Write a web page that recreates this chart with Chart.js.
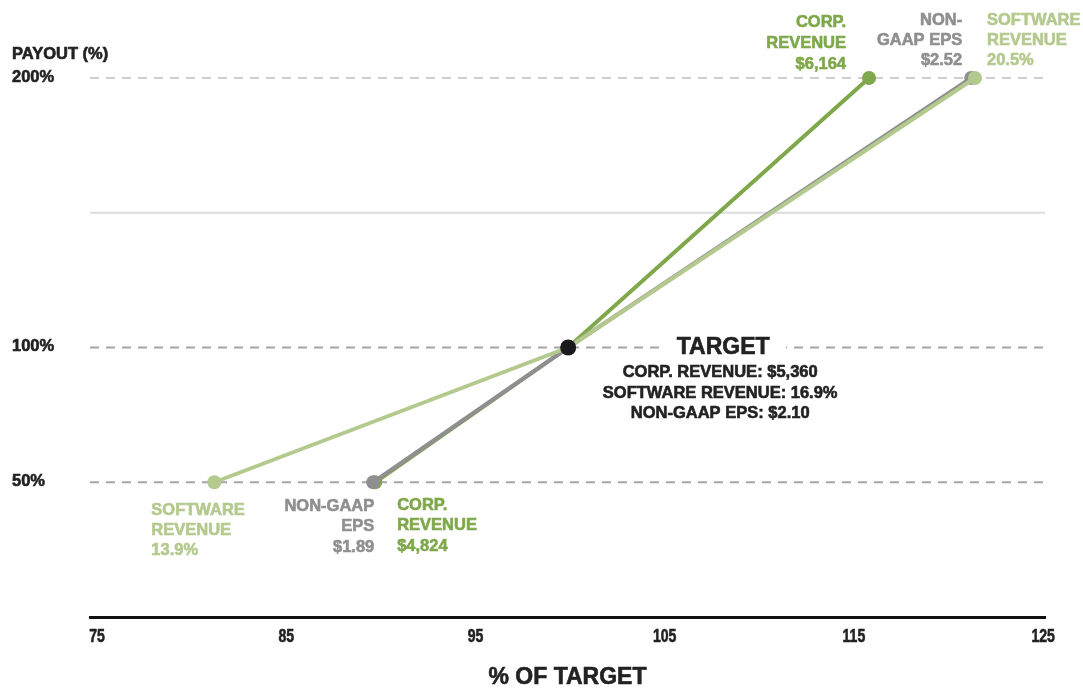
<!DOCTYPE html>
<html lang="en">
<head>
  <meta charset="UTF-8" />
  <title>Payout vs % of Target</title>
  <script src="https://cdn.jsdelivr.net/npm/chart.js"></script>
  <style>
    body { margin: 0; background: #fff; }
    .wrap { width: 1083px; height: 688px; position: relative; }
  </style>
</head>
<body>
  <div class="wrap"><canvas id="payoutChart"></canvas></div>

  <script>
    // values
    const xTicks = [75, 85, 95, 105, 115, 125];
    const yLabels = [50, 100, 200];
    const payoutY = [50, 100, 200];
    const corpX = [89.7, 99.9, 115.8];
    const softwareX = [81.2, 99.9, 121.4];
    const epsX = [89.6, 99.9, 121.2];
    const targetPoint = [99.9, 100];

    const corpLabelsLow = ['CORP.', 'REVENUE', '$4,824'];
    const corpLabelsHigh = ['CORP.', 'REVENUE', '$6,164'];
    const softLabelsLow = ['SOFTWARE', 'REVENUE', '13.9%'];
    const softLabelsHigh = ['SOFTWARE', 'REVENUE', '20.5%'];
    const epsLabelsLow = ['NON-GAAP', 'EPS', '$1.89'];
    const epsLabelsHigh = ['NON-', 'GAAP EPS', '$2.52'];
    const targetLines = ['CORP. REVENUE: $5,360', 'SOFTWARE REVENUE: 16.9%', 'NON-GAAP EPS: $2.10'];

    const CORP = '#7ea84a', SOFT = '#b4c98e', EPS = '#8f8f90';
    const FONT = "'Liberation Sans', Arial, sans-serif";
    const LBL = 'bold 16.5px ' + FONT;

    const pts = xs => xs.map((x, i) => ({ x, y: payoutY[i] }));

    // fill plus a hairline stroke, the source font is a bit heavier
    function heavyText(ctx, t, x, y, color) {
      ctx.fillStyle = color;
      ctx.strokeStyle = color;
      ctx.lineWidth = 0.6;
      ctx.fillText(t, x, y);
      ctx.strokeText(t, x, y);
    }

    function lines(ctx, arr, x, y, step, align, color) {
      ctx.textAlign = align;
      arr.forEach((t, i) => heavyText(ctx, t, x, y + i * step, color));
    }

    const decor = {
      id: 'decor',
      beforeDatasetsDraw(chart) {
        const { ctx, chartArea: a, scales: { x, y } } = chart;
        ctx.save();
        // grid
        yLabels.forEach(v => {
          const py = y.getPixelForValue(v);
          ctx.beginPath();
          ctx.setLineDash([9, 7]);
          ctx.lineWidth = 2;
          ctx.strokeStyle = v === 200 ? '#cfcfcf' : '#a5a5a5';
          ctx.moveTo(a.left, py); ctx.lineTo(a.right, py);
          ctx.stroke();
        });
        ctx.setLineDash([]);
        ctx.beginPath();
        ctx.strokeStyle = '#dcdcdc';
        ctx.lineWidth = 2;
        const p150 = y.getPixelForValue(150);
        ctx.moveTo(a.left, p150); ctx.lineTo(a.right, p150);
        ctx.stroke();

        // gap behind TARGET
        const ty = y.getPixelForValue(targetPoint[1]);
        ctx.fillStyle = '#fff';
        ctx.fillRect(664, ty - 6, 122, 12);

        // y labels
        ctx.textAlign = 'left';
        ctx.textBaseline = 'middle';
        ctx.font = LBL;
        yLabels.forEach(v => heavyText(ctx, v + '%', 12, y.getPixelForValue(v) - 1, '#222'));
        heavyText(ctx, 'PAYOUT (%)', 12, y.getPixelForValue(200) - 24, '#222');

        // x tick labels, narrow
        ctx.font = 'bold 18px ' + FONT;
        ctx.textAlign = 'center';
        xTicks.forEach(v => {
          ctx.save();
          ctx.translate(x.getPixelForValue(v), 637);
          ctx.scale(0.78, 1);
          heavyText(ctx, String(v), 0, 0, '#222');
          ctx.restore();
        });

        // x title
        ctx.font = 'bold 23px ' + FONT;
        heavyText(ctx, '% OF TARGET', (a.left + a.right) / 2, 678, '#222');
        ctx.restore();
      },
      afterDatasetsDraw(chart) {
        const { ctx, scales: { x, y } } = chart;
        ctx.save();
        ctx.textBaseline = 'middle';
        ctx.font = LBL;
        const lowY = y.getPixelForValue(50), highY = y.getPixelForValue(200);

        lines(ctx, softLabelsLow, x.getPixelForValue(softwareX[0]) - 63, lowY + 28, 20, 'left', SOFT);
        lines(ctx, epsLabelsLow, x.getPixelForValue(epsX[0]) + 1, lowY + 24, 20.5, 'right', EPS);
        lines(ctx, corpLabelsLow, x.getPixelForValue(corpX[0]) + 22, lowY + 23, 20.5, 'left', CORP);

        lines(ctx, corpLabelsHigh, x.getPixelForValue(corpX[2]) - 23, highY - 56, 21, 'right', CORP);
        lines(ctx, epsLabelsHigh, x.getPixelForValue(epsX[2]) - 9, highY - 58, 20, 'right', EPS);
        lines(ctx, softLabelsHigh, x.getPixelForValue(softwareX[2]) + 12, highY - 58, 20, 'left', SOFT);

        const tx = x.getPixelForValue(targetPoint[0]) + 155;
        const ty = y.getPixelForValue(targetPoint[1]);
        ctx.textAlign = 'center';
        ctx.font = 'bold 23px ' + FONT;
        heavyText(ctx, 'TARGET', tx, ty, '#222');
        ctx.font = LBL;
        targetLines.forEach((t, i) => heavyText(ctx, t, tx - 3, ty + 25 + i * 20.5, '#222'));
        ctx.restore();
      }
    };

    const series = (data, color, order) => ({
      data: pts(data), borderColor: color, backgroundColor: color,
      borderWidth: 4, pointRadius: 7, pointHoverRadius: 7,
      pointBorderWidth: 0, order, clip: false
    });

    new Chart(document.getElementById('payoutChart'), {
      type: 'line',
      data: {
        datasets: [
          series(softwareX, SOFT, 1),
          series(epsX, EPS, 2),
          series(corpX, CORP, 3),
          {
            data: [{ x: targetPoint[0], y: targetPoint[1] }],
            backgroundColor: '#1a1a1a', borderColor: '#1a1a1a',
            pointRadius: 8, pointBorderWidth: 0, showLine: false, order: 0, clip: false
          }
        ]
      },
      options: {
        responsive: true,
        maintainAspectRatio: false,
        animation: false,
        layout: { padding: { left: 90, right: 38, top: 78, bottom: 0 } },
        plugins: { legend: { display: false }, tooltip: { enabled: false } },
        scales: {
          x: {
            type: 'linear', min: 74.63, max: 125.1,
            afterBuildTicks: s => { s.ticks = xTicks.map(v => ({ value: v })); },
            afterFit: s => { s.height = 71; },
            grid: { display: false, drawTicks: false },
            border: { display: true, color: '#111', width: 3 },
            ticks: { display: false }
          },
          y: { min: 0, max: 200, display: false }
        }
      },
      plugins: [decor]
    });
  </script>
</body>
</html>
